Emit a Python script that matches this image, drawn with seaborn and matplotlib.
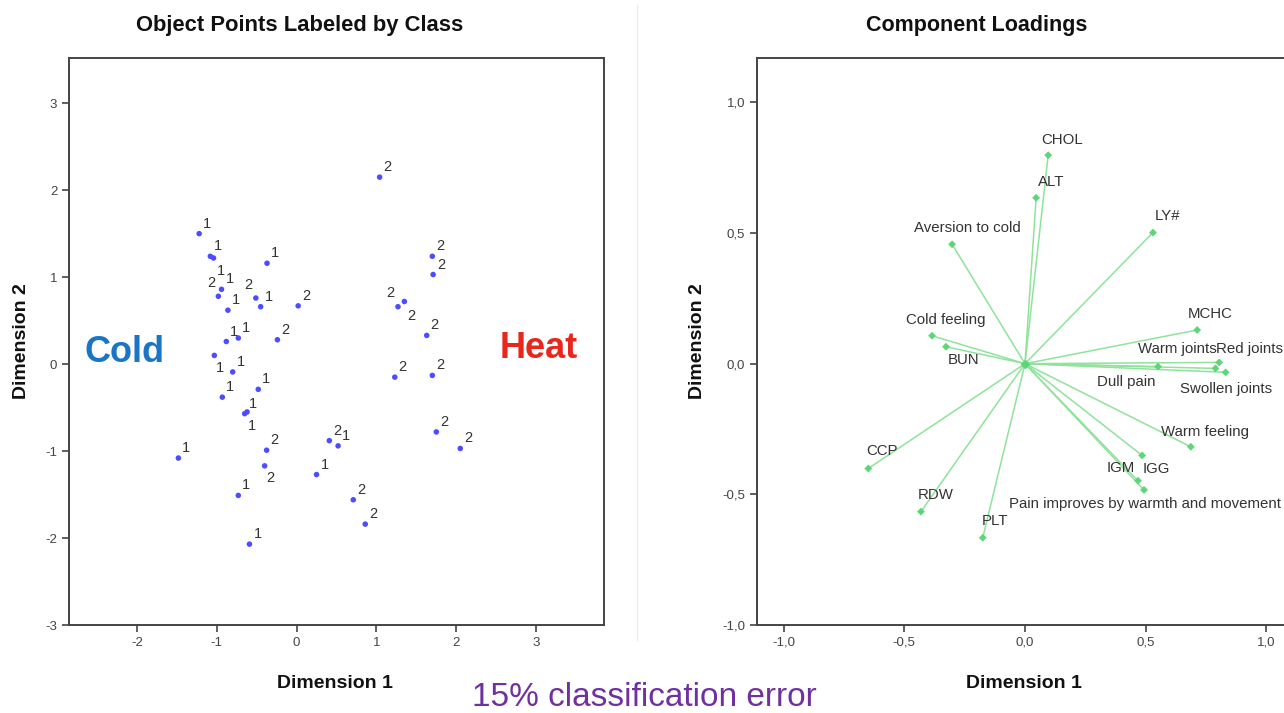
import matplotlib
matplotlib.use("Agg")
import matplotlib.pyplot as plt
import seaborn as sns
import pandas as pd
from matplotlib.lines import Line2D

# object scores (Dimension 1, Dimension 2) and class label
class1_x = [-1.22, -1.08, -1.04, -0.37, -0.94, -0.86, -0.45, -0.73, -0.88, -1.03,
            -0.80, -0.93, -0.48, -0.65, -0.62, -1.48, -0.73, -0.59, 0.52, 0.25]
class1_y = [1.50, 1.24, 1.22, 1.16, 0.86, 0.62, 0.66, 0.30, 0.26, 0.10,
            -0.09, -0.38, -0.29, -0.57, -0.55, -1.08, -1.51, -2.07, -0.94, -1.27]
class2_x = [-0.98, -0.51, 0.02, -0.24, -0.375, -0.40, 0.41, 1.04, 1.70, 1.71,
            1.27, 1.35, 1.63, 1.23, 1.70, 0.71, 0.86, 1.75, 2.05]
class2_y = [0.78, 0.76, 0.67, 0.28, -0.99, -1.17, -0.88, 2.15, 1.24, 1.03,
            0.66, 0.72, 0.33, -0.15, -0.13, -1.56, -1.84, -0.78, -0.97]

# component loadings
variables = ["CHOL", "ALT", "LY#", "Aversion to cold", "MCHC", "Cold feeling", "BUN",
             "Warm joints", "Red joints", "Swollen joints", "Dull pain", "Warm feeling",
             "IGG", "IGM", "Pain improves by warmth and movement", "CCP", "RDW", "PLT"]
load_x = [0.096, 0.046, 0.530, -0.302, 0.713, -0.385, -0.327,
          0.789, 0.804, 0.831, 0.551, 0.687,
          0.485, 0.468, 0.493, -0.649, -0.431, -0.175]
load_y = [0.798, 0.635, 0.502, 0.457, 0.129, 0.107, 0.065,
          -0.018, 0.005, -0.033, -0.011, -0.318,
          -0.351, -0.448, -0.483, -0.401, -0.566, -0.666]

left_xticks = [-2, -1, 0, 1, 2, 3]
left_yticks = [-3, -2, -1, 0, 1, 2, 3]
right_ticks = [-1.0, -0.5, 0.0, 0.5, 1.0]

sns.set_style("white")
plt.rcParams['font.family'] = ['Liberation Sans', 'DejaVu Sans']
plt.rcParams['axes.unicode_minus'] = False

scores = pd.DataFrame({
    "dim1": class1_x + class2_x,
    "dim2": class1_y + class2_y,
    "label": ["1"] * len(class1_x) + ["2"] * len(class2_x),
})
loadings = pd.DataFrame({"var": variables, "dim1": load_x, "dim2": load_y})

W, H = 1284, 713
fig = plt.figure(figsize=(W / 100, H / 100), dpi=100)
ax1 = fig.add_axes([69 / W, 1 - 625 / H, 535 / W, 567 / H])
ax2 = fig.add_axes([757 / W, 1 - 625 / H, 536 / W, 567 / H])

# ---- left panel: object points
sns.scatterplot(data=scores, x="dim1", y="dim2", ax=ax1, color="#4d4dff",
                s=16, edgecolor="none", legend=False)
# label offsets in pixels (default up-right)
label_off = {2: (7, -13), 9: (6, -13), 14: (5, -14),
             20: (-7, 13), 21: (-8, 13), 25: (6, -12), 30: (-8, 14), 31: (7, -15)}
for i, row in scores.iterrows():
    dx, dy = label_off.get(i, (8, 10))
    ax1.annotate(row["label"], (row["dim1"], row["dim2"]), xytext=(dx, dy),
                 textcoords="offset pixels", ha="center", va="center",
                 fontsize=10.5, color="#333333")
ax1.set_xlim(-2.85, 3.85)
ax1.set_ylim(-3, 3.52)
ax1.set_xticks(left_xticks)
ax1.set_yticks(left_yticks)
ax1.set_xlabel("")
ax1.set_ylabel("")

# ---- right panel: loadings
for _, row in loadings.iterrows():
    ax2.plot([0, row["dim1"]], [0, row["dim2"]], color="#8fe39b", lw=1.1, zorder=1)
sns.scatterplot(data=loadings, x="dim1", y="dim2", ax=ax2, color="#5cd676",
                s=16, marker="D", edgecolor="none", legend=False, zorder=2)
ax2.scatter([0], [0], color="#5cd676", s=16, marker="D", zorder=2)
var_off = {
    "CHOL": (14, 15, "center"), "ALT": (15, 16, "center"), "LY#": (15, 17, "center"),
    "Aversion to cold": (15, 16, "center"), "MCHC": (13, 16, "center"),
    "Cold feeling": (14, 16, "center"), "BUN": (18, -13, "center"),
    "Warm joints": (1, 19, "right"), "Red joints": (-3, 13, "left"),
    "Swollen joints": (0, -17, "center"), "Dull pain": (-32, -15, "center"),
    "Warm feeling": (14, 15, "center"), "IGG": (14, -14, "center"),
    "IGM": (-17, 13, "center"), "Pain improves by warmth and movement": (1, -14, "center"),
    "CCP": (14, 17, "center"), "RDW": (15, 17, "center"), "PLT": (12, 17, "center"),
}
for _, row in loadings.iterrows():
    dx, dy, ha = var_off[row["var"]]
    ax2.annotate(row["var"], (row["dim1"], row["dim2"]), xytext=(dx, dy),
                 textcoords="offset pixels", ha=ha, va="center",
                 fontsize=10.8, color="#333333")
ax2.set_xlim(-1.11, 1.11)
ax2.set_ylim(-1.0, 1.17)
ax2.set_xticks(right_ticks)
ax2.set_yticks(right_ticks)
ax2.set_xticklabels([f"{t:.1f}".replace(".", ",") for t in right_ticks])
ax2.set_yticklabels([f"{t:.1f}".replace(".", ",") for t in right_ticks])
ax2.set_xlabel("")
ax2.set_ylabel("")

for ax in (ax1, ax2):
    for sp in ax.spines.values():
        sp.set_visible(True)
        sp.set_color("#444444")
        sp.set_linewidth(1.4)
    ax.tick_params(direction="out", length=5, width=1.2, color="#444444",
                   labelsize=9.5, labelcolor="#444444", left=True, bottom=True)

# titles and axis labels
fig.text(300 / W, 1 - 25 / H, "Object Points Labeled by Class", ha="center", va="center",
         fontsize=15.8, fontweight="bold", color="#111111")
fig.text(977 / W, 1 - 25 / H, "Component Loadings", ha="center", va="center",
         fontsize=15.5, fontweight="bold", color="#111111")
for x, y, rot in [(335, 683, 0), (1024, 683, 0), (22, 341, 90), (697, 341, 90)]:
    fig.text(x / W, 1 - y / H, "Dimension 1" if rot == 0 else "Dimension 2",
             ha="center", va="center", rotation=rot,
             fontsize=14, fontweight="bold", color="#111111")

fig.text(125 / W, 1 - 352 / H, "Cold", ha="center", va="center",
         fontsize=26, fontweight="bold", color="#1a75c4")
fig.text(539 / W, 1 - 348 / H, "Heat", ha="center", va="center",
         fontsize=26, fontweight="bold", color="#e8261c")
fig.text(644 / W, 1 - 697 / H, "15% classification error", ha="center", va="center",
         fontsize=24, color="#7030a0")

fig.add_artist(Line2D([637 / W, 637 / W], [1 - 5 / H, 1 - 640 / H],
                      transform=fig.transFigure, color="#ececec", lw=1))

fig.savefig("out.png", dpi=100)
